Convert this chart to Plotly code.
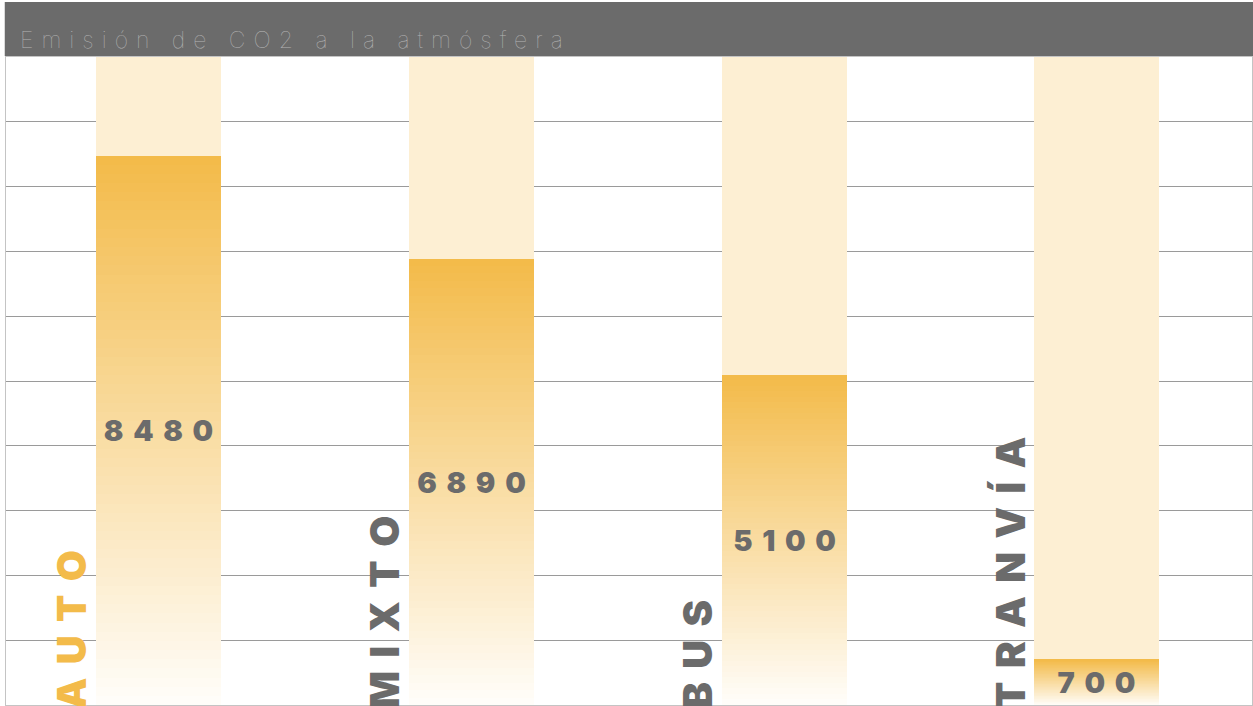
import plotly.graph_objects as go

# ---- data ----
categories = ["AUTO", "MIXTO", "BUS", "TRANVÍA"]
values = [8480, 6890, 5100, 700]
max_value = 10000
label_colors = ["#f3bb4a", "#6b6b6b", "#6b6b6b", "#6b6b6b"]
title_text = "Emisión de CO2 a la atmósfera"

# ---- style ----
TOP = (243, 187, 74)
BOTTOM = (255, 253, 249)
BG_BAR = "#fdefd3"
GRAY = "#6b6b6b"
BAR_W = 0.4
N_SEG = 60
SP = "\u2004"  # three-per-em space, used for letter spacing

xs = list(range(len(categories)))

fig = go.Figure()

# background (full-scale) bars
fig.add_trace(go.Bar(x=xs, y=[max_value] * len(xs), width=BAR_W,
                     marker=dict(color=BG_BAR, line=dict(width=0)),
                     hoverinfo="skip", showlegend=False))

# gradient bars: each bar split in thin slices from its own value
for k in range(N_SEG):
    t = k / (N_SEG - 1)
    c = tuple(round(BOTTOM[j] + (TOP[j] - BOTTOM[j]) * t) for j in range(3))
    fig.add_trace(go.Bar(
        x=xs,
        y=[v / N_SEG for v in values],
        base=[v * k / N_SEG for v in values],
        width=BAR_W,
        marker=dict(color="rgb(%d,%d,%d)" % c, line=dict(width=0)),
        hoverinfo="skip", showlegend=False))

# value labels (transparent bar carrying the text)
fig.add_trace(go.Bar(
    x=xs, y=values, width=BAR_W,
    marker=dict(color="rgba(0,0,0,0)", line=dict(width=0)),
    text=[SP.join(str(v)) for v in values],
    textposition="inside", insidetextanchor="middle",
    constraintext="none", textangle=0,
    textfont=dict(family="Inter, Roboto, sans-serif", size=29, color=GRAY, weight=900),
    hoverinfo="skip", showlegend=False))

# category labels, rotated, to the left of each bar
for i, (cat, col) in enumerate(zip(categories, label_colors)):
    fig.add_annotation(
        x=i, xref="x", y=0, yref="paper",
        text=SP.join(cat), textangle=-90, showarrow=False,
        xanchor="center", yanchor="bottom", xshift=-87, yshift=-6,
        font=dict(family="Inter, Roboto, sans-serif", size=40, color=col, weight=900))

# title bar
fig.add_shape(type="rect", xref="paper", yref="paper",
              x0=-0.001, x1=1.001, y0=1.0015, y1=1.085,
              fillcolor=GRAY, line=dict(width=0), layer="above")
fig.add_annotation(
    x=0.0096, xref="paper", y=1.026, yref="paper",
    text=title_text, showarrow=False, xanchor="left", yanchor="middle",
    font=dict(family="Inter, Roboto, sans-serif", size=23, color="#b3b3b3", weight=100))

fig.update_layout(
    width=1253, height=706, autosize=False,
    margin=dict(l=6, r=1, t=57, b=1, pad=0),
    paper_bgcolor="white", plot_bgcolor="white",
    barmode="overlay", bargap=0, showlegend=False, hovermode=False,
    xaxis=dict(range=[-0.489, 3.496], showticklabels=False,
               showgrid=False, zeroline=False, ticks="",
               showline=True, mirror=True, linecolor="#c4c4c4", linewidth=1),
    yaxis=dict(range=[0, max_value], dtick=1000, showticklabels=False,
               showgrid=True, gridcolor="#9a9a9a", gridwidth=1, zeroline=False,
               ticks="", showline=True, mirror=True, linecolor="#c4c4c4", linewidth=1),
)

post = """
document.querySelectorAll('text.annotation-text').forEach(function(el){
  if (el.textContent.indexOf('Emisi') === 0) {
    var b0 = el.getBBox();
    el.style.letterSpacing = '8px';
    var b1 = el.getBBox();
    var x = parseFloat(el.getAttribute('x') || '0');
    el.setAttribute('x', x + (b0.x - b1.x));
  }
});
"""
fig.write_html("out.html", post_script=post)
